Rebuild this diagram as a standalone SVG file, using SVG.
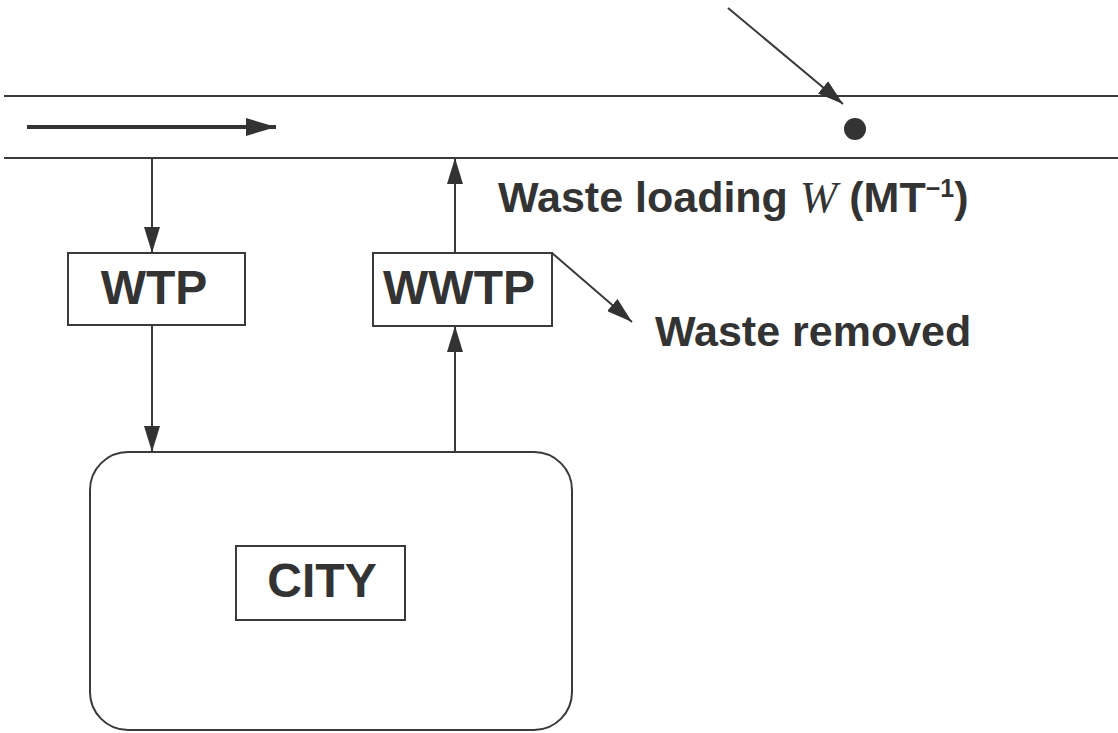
<svg xmlns="http://www.w3.org/2000/svg" width="1118" height="733" viewBox="0 0 1118 733">
  <style>
    .ln { stroke: #3a3a3a; stroke-width: 2; fill: none; }
    .box { stroke: #3a3a3a; stroke-width: 2; fill: none; }
    .lbl { font-family: "Liberation Sans", Arial, sans-serif; font-weight: bold; fill: #333; }
    .big { font-size: 48px; text-anchor: middle; }
    .note { font-size: 43px; }
  </style>
  <defs>
    <marker id="head" viewBox="0 0 26 16" refX="26" refY="8" markerWidth="26" markerHeight="16" markerUnits="userSpaceOnUse" orient="auto">
      <path d="M0,0 L26,8 L0,16 z" fill="#333"/>
    </marker>
    <marker id="flowhead" viewBox="0 0 30 18" refX="30" refY="9" markerWidth="30" markerHeight="18" markerUnits="userSpaceOnUse" orient="auto">
      <path d="M0,0 L30,9 L0,18 z" fill="#333"/>
    </marker>
  </defs>
  <rect width="1118" height="733" fill="#fff"/>

  <!-- river banks -->
  <g id="river">
    <line class="ln" x1="4" y1="96" x2="1118" y2="96"/>
    <line class="ln" x1="4" y1="158" x2="1118" y2="158"/>
    <circle cx="855" cy="129" r="11" fill="#333"/>
  </g>

  <!-- plants and city -->
  <g id="wtp">
    <rect class="box" x="68" y="253" width="177" height="72"/>
    <text class="lbl big" x="154" y="304">WTP</text>
  </g>
  <g id="wwtp">
    <rect class="box" x="373" y="253" width="179" height="73"/>
    <text class="lbl big" x="459" y="304">WWTP</text>
  </g>
  <g id="city">
    <rect class="box" x="90" y="452" width="482" height="278" rx="38" ry="38"/>
    <rect class="box" x="236" y="546" width="169" height="74"/>
    <text class="lbl big" x="322" y="597">CITY</text>
  </g>

  <!-- labels -->
  <g id="labels">
    <text class="lbl note" x="498" y="212">Waste loading <tspan font-family="'Liberation Serif', 'Times New Roman', serif" font-style="italic" font-weight="normal" font-size="45">W</tspan> (MT<tspan font-size="25" dy="-15">−1</tspan><tspan dy="15">)</tspan></text>
    <text class="lbl note" x="655" y="346">Waste removed</text>
  </g>

  <!-- connectors -->
  <g id="connectors">
    <line x1="27" y1="127" x2="276" y2="127" stroke="#333" stroke-width="4" marker-end="url(#flowhead)"/>
    <line class="ln" x1="728" y1="8" x2="843" y2="104" marker-end="url(#head)"/>
    <line class="ln" x1="152" y1="158" x2="152" y2="253" marker-end="url(#head)"/>
    <line class="ln" x1="152" y1="325" x2="152" y2="452" marker-end="url(#head)"/>
    <line class="ln" x1="455" y1="452" x2="455" y2="326" marker-end="url(#head)"/>
    <line class="ln" x1="455" y1="253" x2="455" y2="158" marker-end="url(#head)"/>
    <line class="ln" x1="552" y1="253" x2="632" y2="322" marker-end="url(#head)"/>
  </g>
</svg>
